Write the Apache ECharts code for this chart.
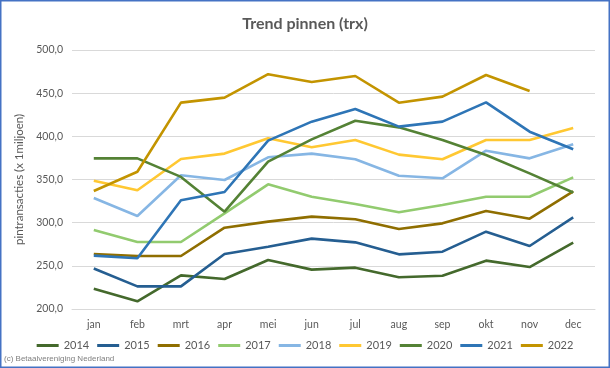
<!DOCTYPE html>
<html><head><meta charset="utf-8">
<script src="https://cdn.jsdelivr.net/npm/echarts@6/dist/echarts.min.js"></script>
<style>html,body{margin:0;padding:0;background:#fff}#c{width:610px;height:368px}</style>
</head><body><div id="c"></div>
<script>
const months = ['jan','feb','mrt','apr','mei','jun','jul','aug','sep','okt','nov','dec'];
const years = ['2014','2015','2016','2017','2018','2019','2020','2021','2022'];
const y2014 = [223.5,208.9,239.0,234.7,256.8,245.6,247.9,236.7,238.6,256.0,248.6,276.8];
const y2015 = [247.0,226.2,226.2,263.7,272.2,281.5,277.2,263.3,266.4,289.6,273.0,306.2];
const y2016 = [263.7,261.4,261.4,294.2,301.2,307.0,303.9,292.7,299.2,313.5,304.6,336.3];
const y2017 = [291.5,277.6,277.6,310.8,344.4,330.0,321.6,312.0,320.5,330.0,330.0,352.5];
const y2018 = [328.6,307.7,355.0,349.4,375.7,380.0,373.4,354.4,351.4,383.4,374.5,390.7];
const y2019 = [348.6,337.5,373.7,380.0,397.7,387.3,395.8,378.8,373.4,395.8,395.8,409.7];
const y2020 = [374.5,374.5,353.0,312.7,370.7,396.5,418.1,410.4,395.8,378.4,357.1,335.0];
const y2021 = [261.8,258.7,326.0,335.5,395.0,417.0,431.7,411.2,417.0,439.4,405.4,385.0];
const y2022 = [336.7,359.0,439.0,444.8,472.0,463.0,469.9,439.0,446.0,471.0,452.5,null];
const values = [y2014,y2015,y2016,y2017,y2018,y2019,y2020,y2021,y2022];
const colors = ['#44692C','#255E91','#8F6E00','#92CB6F','#86B6E4','#FFC832','#548235','#2E75B6','#C39400'];
const yTicks = [200,250,300,350,400,450,500];

const chart = echarts.init(document.getElementById('c'));
const font = 'Lato, "Open Sans", sans-serif';
chart.setOption({
  animation:false,
  backgroundColor:'#fff',
  title:{text:'Trend pinnen (trx)',left:'center',top:11,textStyle:{fontFamily:font,fontSize:16,fontWeight:'bold',color:'#595959'}},
  grid:{left:72,right:15,top:50,bottom:59},
  legend:{bottom:12,left:'center',icon:'rect',itemWidth:22,itemHeight:3,itemGap:8,
    textStyle:{fontFamily:font,fontSize:11,color:'#595959'},data:years},
  xAxis:{type:'category',data:months,boundaryGap:true,
    axisLine:{show:true,lineStyle:{color:'#D9D9D9'}},axisTick:{show:false},
    axisLabel:{color:'#595959',fontFamily:font,fontSize:10.5,margin:10}},
  yAxis:{type:'value',min:yTicks[0],max:yTicks[yTicks.length-1],interval:50,
    name:'pintransacties (x 1miljoen)',nameLocation:'middle',nameRotate:90,nameGap:42,
    nameTextStyle:{color:'#595959',fontFamily:font,fontSize:11.5},
    axisLine:{show:false},axisTick:{show:false},
    splitLine:{lineStyle:{color:'#D9D9D9'}},
    axisLabel:{color:'#595959',fontFamily:font,fontSize:10.5,margin:9,
      formatter:v=>v.toFixed(1).replace('.',',')}},
  series: years.map((y,i)=>({name:y,type:'line',data:values[i],symbol:'none',
    lineStyle:{width:2.6,color:colors[i]},itemStyle:{color:colors[i]}})),
  graphic:[
    {type:'rect',shape:{x:0.75,y:0.75,width:608.5,height:366.5},style:{fill:'none',stroke:'#4472C4',lineWidth:1.5},silent:true},
    {type:'text',left:4,top:355,style:{text:'(c) Betaalvereniging Nederland',fontFamily:'"Liberation Sans", Arial, sans-serif',fontSize:8,fill:'#808080'}}
  ]
});
</script></body></html>
